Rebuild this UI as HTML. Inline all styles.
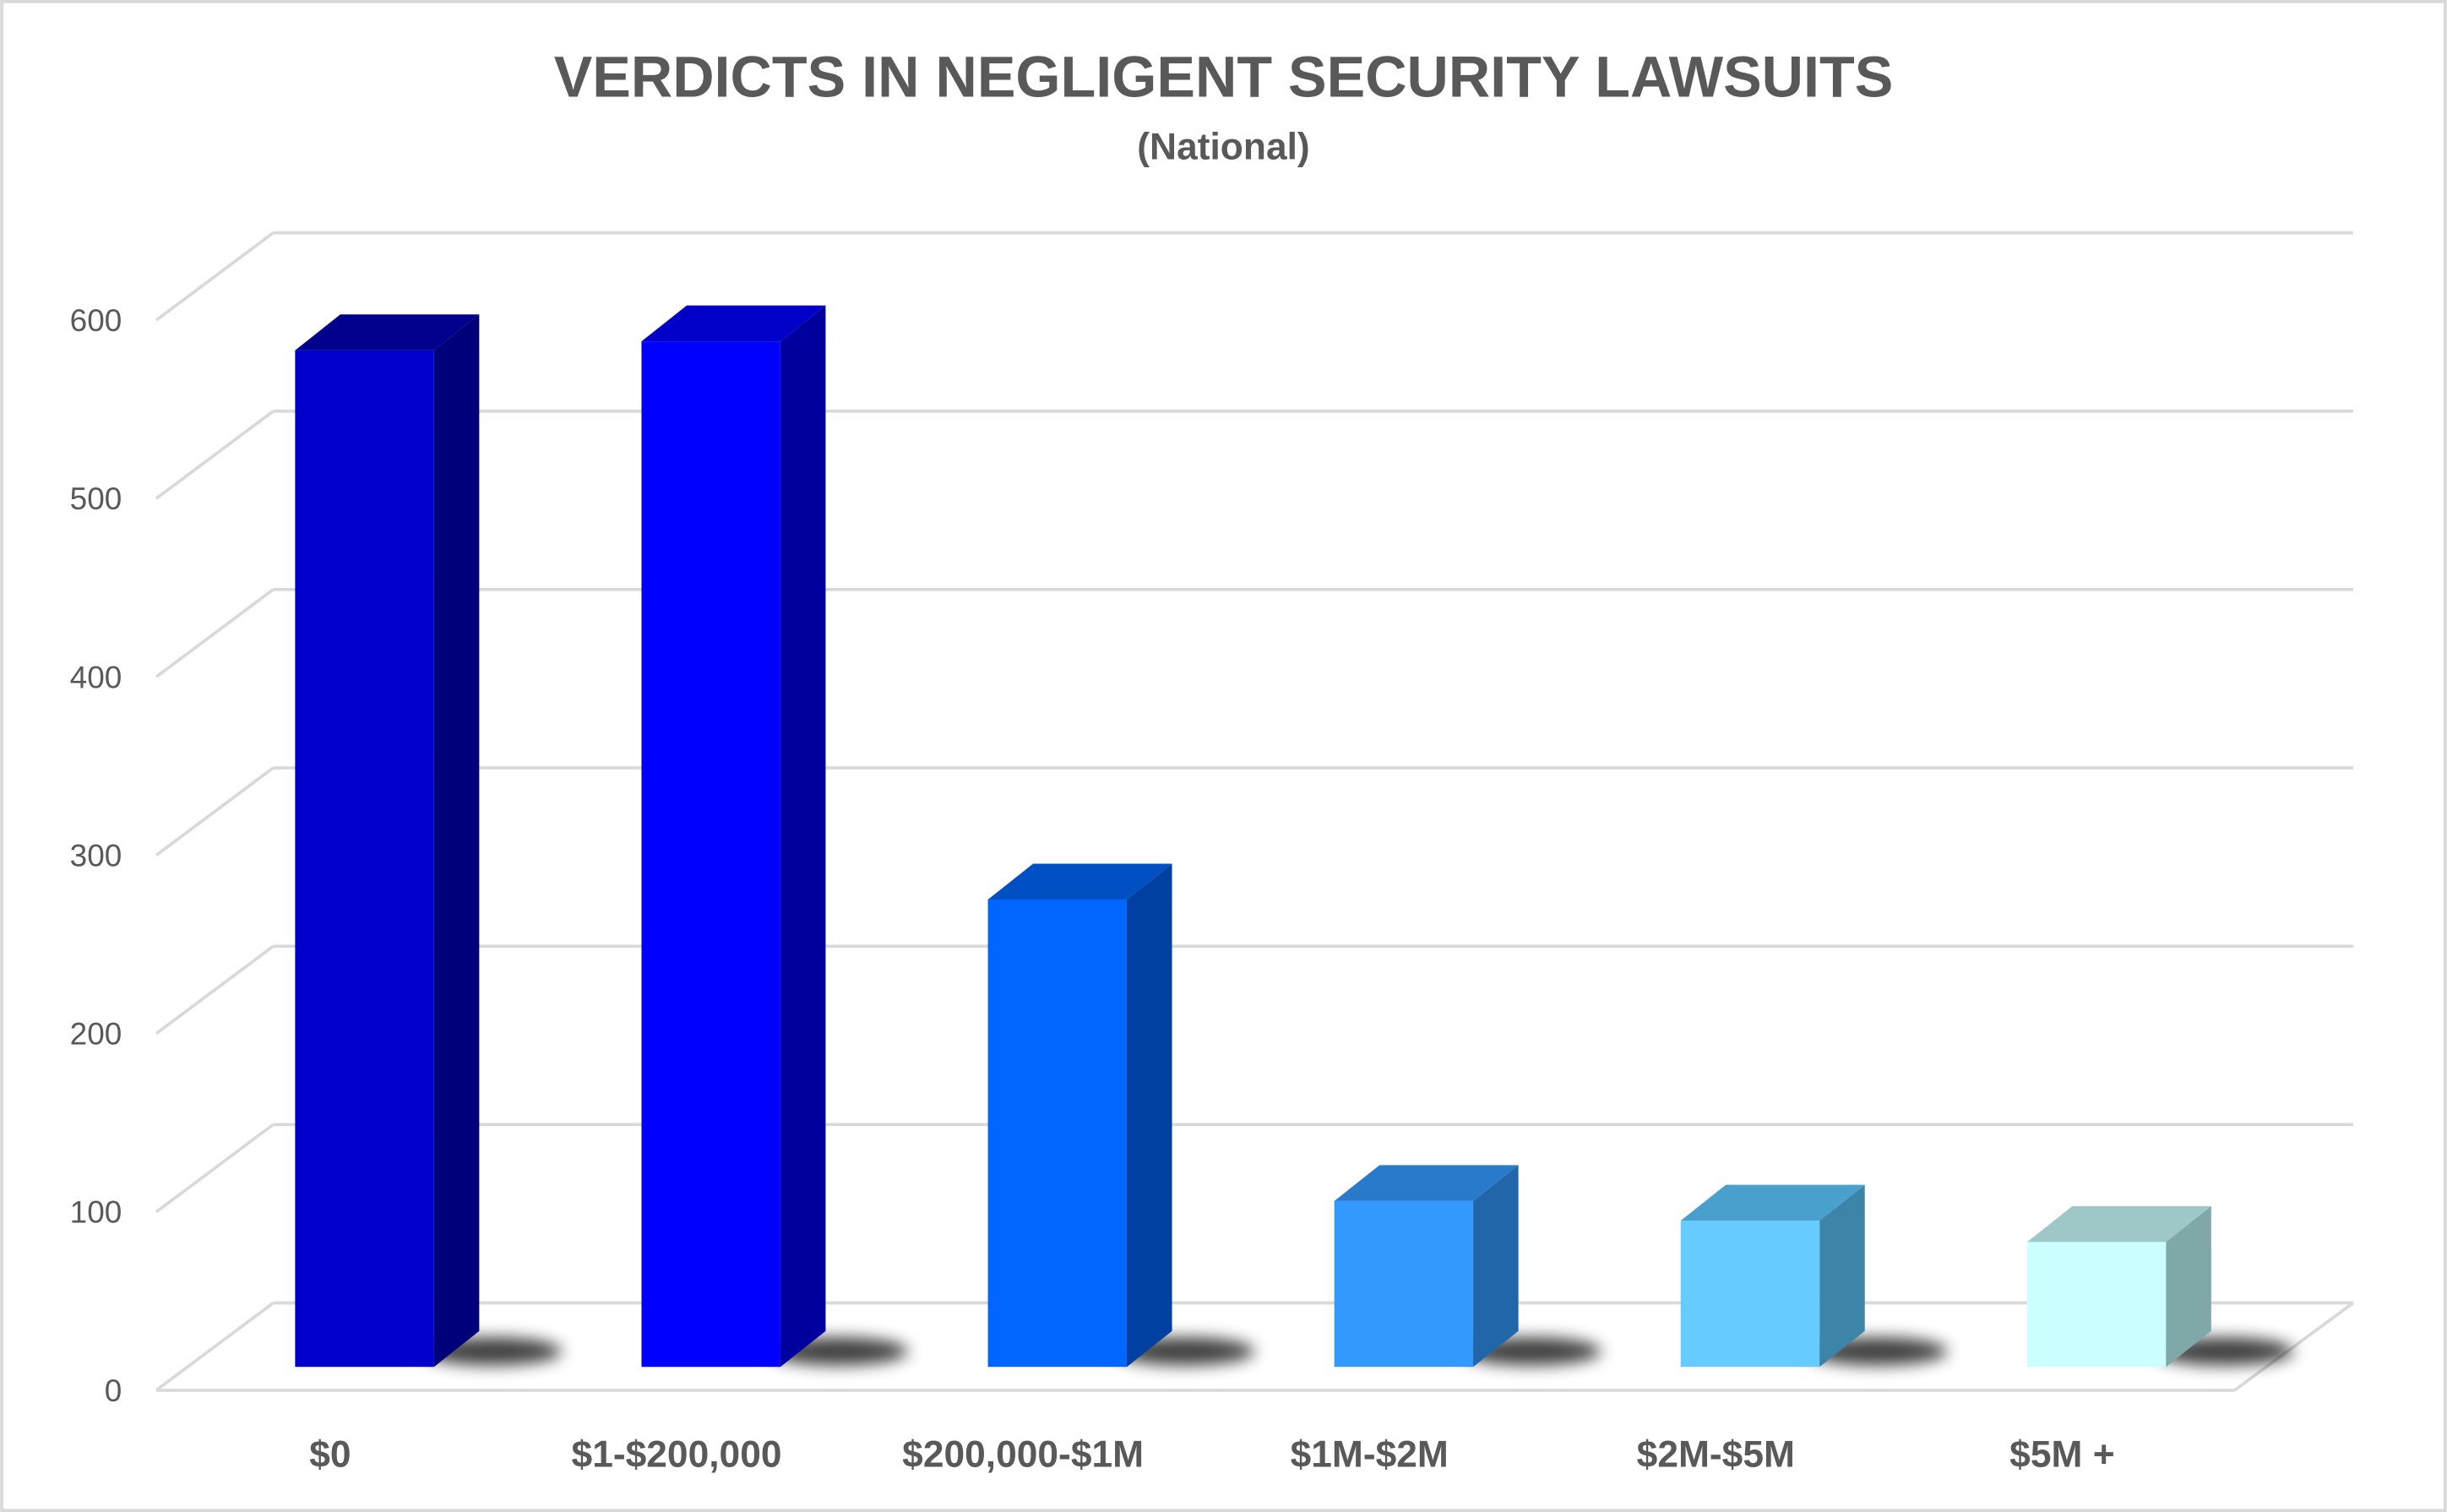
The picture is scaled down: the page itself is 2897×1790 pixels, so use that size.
<!DOCTYPE html>
<html><head><meta charset="utf-8"><style>
html,body{margin:0;padding:0;background:#fff;}
svg{display:block;}
text{font-family:"Liberation Sans",Arial,sans-serif;}
</style></head><body>
<svg id="chart" width="2897" height="1790" viewBox="0 0 1568 969" xmlns="http://www.w3.org/2000/svg">
<defs>
<filter id="blur" x="-50%" y="-200%" width="200%" height="500%"><feGaussianBlur stdDeviation="5"/></filter>
</defs>
<rect x="1" y="1" width="1566" height="967" fill="#fff" stroke="#d9d9d9" stroke-width="2"/>
<text x="784" y="62" text-anchor="middle" font-size="37" font-weight="bold" fill="#595959">VERDICTS IN NEGLIGENT SECURITY LAWSUITS</text>
<text x="784" y="102" text-anchor="middle" font-size="24" font-weight="bold" fill="#595959">(National)</text>
<g id="grid"></g>
<g id="bars"></g>
<g id="labels"></g>
</svg>
<script>
const categories = ["$0","$1-$200,000","$200,000-$1M","$1M-$2M","$2M-$5M","$5M +"];
const values = [570, 575, 262, 93, 82, 70];
const ticks = [0,100,200,300,400,500,600];
const fronts = ["#0000CC","#0000FF","#0066FF","#3399FF","#66CCFF","#CCFFFF"];
const sides = ["#000078","#00009E","#0040A0","#2266AA","#3D85A8","#80A8A8"];
const tops = ["#00008C","#0000C8","#0050C4","#2A7ACC","#4AA0CC","#9FC7C7"];
const NS="http://www.w3.org/2000/svg";
const grid=document.getElementById('grid'), bars=document.getElementById('bars'), labels=document.getElementById('labels');
const pxPer = 114.3/100;
const yFront = v => 891 - v*pxPer;
const yBack = v => 835 - v*pxPer;
const yBar = v => 876 - v*pxPer;
function mk(tag, attrs, parent){const e=document.createElementNS(NS,tag);for(const k in attrs)e.setAttribute(k,attrs[k]);parent.appendChild(e);return e;}
ticks.forEach(t=>{
  const g=mk('g',{},grid);
  
  
  mk('line',{x1:100,y1:yFront(t),x2:175,y2:yBack(t),stroke:'#d9d9d9','stroke-width':2},g);
  mk('line',{x1:175,y1:yBack(t),x2:1508,y2:yBack(t),stroke:'#d9d9d9','stroke-width':2},g);
  const tx=mk('text',{x:78,y:yFront(t)+7,'text-anchor':'end','font-size':20,fill:'#595959'},labels);
  tx.textContent=t;
  
  
});
mk('line',{x1:100,y1:891,x2:1432,y2:891,stroke:'#d9d9d9','stroke-width':2},grid);
mk('line',{x1:1432,y1:891,x2:1508,y2:835,stroke:'#d9d9d9','stroke-width':2},grid);
const x0=189, step=222, w=89, dx=29, dy=23;
categories.forEach((c,i)=>{
  const x=x0+i*step, yt=yBar(values[i]), yb=876;
  const g=mk('g',{},bars);
  
  
  mk('ellipse',{cx:x+w+dx+8,cy:yb-10,rx:45,ry:9,fill:'#000',opacity:0.75,filter:'url(#blur)'},g);
  mk('polygon',{points:`${x+w},${yt} ${x+w+dx},${yt-dy} ${x+w+dx},${yb-dy} ${x+w},${yb}`,fill:sides[i]},g);
  mk('polygon',{points:`${x},${yt} ${x+dx},${yt-dy} ${x+w+dx},${yt-dy} ${x+w},${yt}`,fill:tops[i]},g);
  mk('rect',{x:x,y:yt,width:w,height:yb-yt,fill:fronts[i]},g);
  const tx=mk('text',{x:x+w/2-22,y:940,'text-anchor':'middle','font-size':24,'font-weight':'bold',fill:'#595959'},labels);
  tx.textContent=c;
  
  
});
</script>
</body></html>
